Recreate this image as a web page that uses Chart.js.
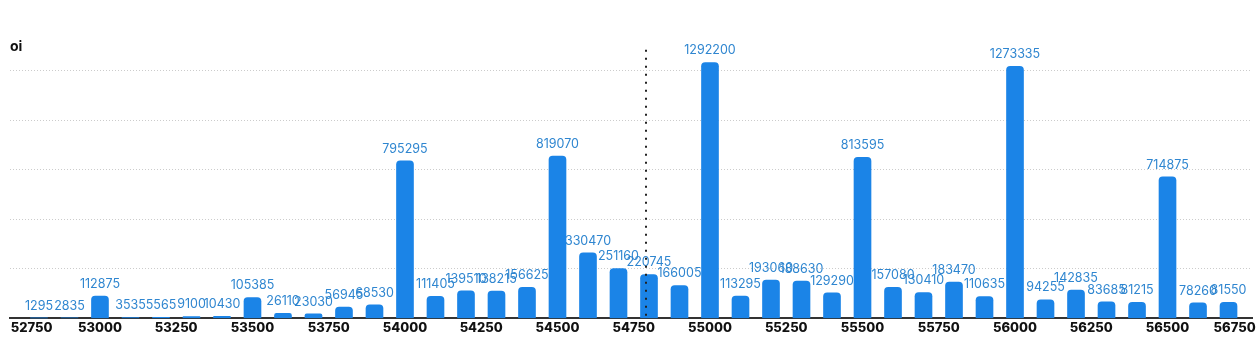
<!DOCTYPE html>
<html>
<head>
<meta charset="utf-8">
<script src="https://cdn.jsdelivr.net/npm/chart.js@4"></script>
<style>
  html, body { margin: 0; padding: 0; background: #fff; }
  #wrap { width: 1258px; height: 340px; position: relative; }
</style>
</head>
<body>
<div id="wrap"><canvas id="oiChart"></canvas></div>
<script>
// strikes and open interest
const strikes = [
    52800, 52900, 53000, 53100, 53200, 53300, 53400, 53500, 53600, 53700,
    53800, 53900, 54000, 54100, 54200, 54300, 54400, 54500, 54600, 54700,
    54800, 54900, 55000, 55100, 55200, 55300, 55400, 55500, 55600, 55700,
    55800, 55900, 56000, 56100, 56200, 56300, 56400, 56500, 56600, 56700
];
const oiValues = [
    1295, 2835, 112875, 3535, 5565, 9100, 10430, 105385, 26110, 23030,
    56945, 68530, 795295, 111405, 139510, 138215, 156625, 819070, 330470, 251160,
    220745, 166005, 1292200, 113295, 193060, 188630, 129290, 813595, 157080, 130410,
    183470, 110635, 1273335, 94255, 142835, 83685, 81215, 714875, 78260, 81550
];
const xTickLabels = [
    52750, 53000, 53250, 53500, 53750, 54000, 54250, 54500, 54750,
    55000, 55250, 55500, 55750, 56000, 56250, 56500, 56750
];
const yGridValues = [0, 250000, 500000, 750000, 1000000, 1250000];
const spotPrice = 54790;

const BAR_COLOR = '#1b84e7';
const LABEL_COLOR = '#2f86d0';
const FONT = 'Inter, "Noto Sans", sans-serif';

// value label above each bar
const barLabels = {
    id: 'barLabels',
    afterDatasetsDraw(chart) {
        const ctx = chart.ctx;
        const meta = chart.getDatasetMeta(0);
        ctx.save();
        ctx.font = '12.5px ' + FONT;
        ctx.fillStyle = LABEL_COLOR;
        ctx.textAlign = 'center';
        ctx.textBaseline = 'middle';
        meta.data.forEach((bar, i) => {
            ctx.fillText(String(oiValues[i]), bar.x, bar.y - 12);
        });
        ctx.restore();
    }
};

// dotted marker at the current price
const spotLine = {
    id: 'spotLine',
    afterDatasetsDraw(chart) {
        const { ctx, chartArea } = chart;
        const x = Math.round(chart.scales.x.getPixelForValue(spotPrice));
        ctx.save();
        ctx.strokeStyle = '#222';
        ctx.lineWidth = 2;
        ctx.setLineDash([2, 6]);
        ctx.beginPath();
        ctx.moveTo(x, chartArea.top - 6);
        ctx.lineTo(x, chartArea.bottom);
        ctx.stroke();
        ctx.restore();
    }
};

const ctx = document.getElementById('oiChart').getContext('2d');
new Chart(ctx, {
    type: 'bar',
    data: {
        datasets: [{
            label: 'oi',
            data: strikes.map((s, i) => ({ x: s, y: oiValues[i] })),
            backgroundColor: BAR_COLOR,
            barThickness: 17,
            borderRadius: { topLeft: 4, topRight: 4 },
            borderSkipped: 'start'
        }]
    },
    options: {
        responsive: true,
        maintainAspectRatio: false,
        animation: false,
        layout: {
            padding: { left: 10, right: 6, top: 0, bottom: 2 }
        },
        plugins: {
            legend: { display: false },
            tooltip: { enabled: false },
            title: {
                display: true,
                text: 'oi',
                align: 'start',
                color: '#111',
                font: { family: FONT, size: 14, weight: 'bold' },
                padding: { top: 38, bottom: 1 }
            }
        },
        scales: {
            x: {
                type: 'linear',
                min: 52705,
                max: 56777,
                offset: false,
                grid: { display: false, drawTicks: false },
                border: { display: true, color: '#333', width: 2 },
                afterBuildTicks(scale) {
                    // edge labels are pulled inside the plot, like the original
                    scale.ticks = xTickLabels.map((v, i) => {
                        let value = v;
                        if (i === 0) value += 26;
                        if (i === xTickLabels.length - 1) value -= 30;
                        return { value: value };
                    });
                },
                ticks: {
                    autoSkip: false,
                    maxRotation: 0,
                    padding: 2,
                    color: '#111',
                    font: { family: FONT, size: 13, weight: '800' },
                    callback: function(value, index) {
                        return String(xTickLabels[index]);
                    }
                }
            },
            y: {
                min: 0,
                max: 1326000,
                grid: { color: '#cccccc', drawTicks: false },
                border: { display: false, dash: [1, 2] },
                afterBuildTicks(scale) {
                    scale.ticks = yGridValues.map(v => ({ value: v }));
                },
                ticks: { display: false }
            }
        }
    },
    plugins: [barLabels, spotLine]
});
</script>
</body>
</html>
